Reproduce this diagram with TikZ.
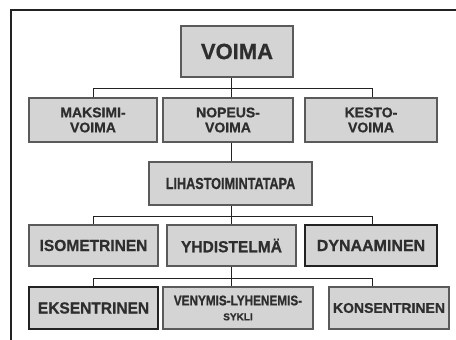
\documentclass[tikz,border=0pt]{standalone}
\usepackage{fontspec}
\setmainfont{Liberation Sans}[BoldFeatures={FakeBold=0.8}]
\definecolor{boxfill}{HTML}{D4D4D4}
\definecolor{boxline}{HTML}{5A5A5A}
\definecolor{darkline}{HTML}{222222}
\definecolor{txt}{HTML}{2E2E2E}
\tikzset{
  box/.style={draw=boxline, line width=1.2pt, fill=boxfill, text=txt,
    inner sep=0pt, align=center, font=\bfseries},
  thickbox/.style={box, draw=darkline, line width=2pt},
  conn/.style={draw=darkline, line width=0.9pt},
}
\begin{document}
\begin{tikzpicture}[x=1pt,y=-1pt]
\useasboundingbox (0,0) rectangle (456,340);
% frame
\draw[darkline, line width=2.5pt] (11,10) -- (456,10);
\draw[darkline, line width=1.5pt] (11,9) -- (11,340);
% nodes
\node[box, minimum width=112pt, minimum height=51pt, font=\bfseries\fontsize{22}{24}\selectfont] (voima) at (237,51.5) {VOIMA};
\node[box, minimum width=128pt, minimum height=44pt, font=\bfseries\fontsize{14}{15}\selectfont] (maks) at (93,120) {MAKSIMI-\\VOIMA};
\node[box, minimum width=130pt, minimum height=44pt, font=\bfseries\fontsize{14}{15}\selectfont] (nop) at (228,120) {NOPEUS-\\VOIMA};
\node[box, minimum width=132pt, minimum height=44pt, font=\bfseries\fontsize{14}{15}\selectfont] (kesto) at (371,120) {KESTO-\\VOIMA};
\node[box, minimum width=163pt, minimum height=43pt, font=\bfseries\fontsize{16}{17}\selectfont] (liha) at (230.5,183.5) {\scalebox{0.79}[1]{LIHASTOIMINTATAPA}};
\node[box, minimum width=129pt, minimum height=41pt, font=\bfseries\fontsize{16}{17}\selectfont] (iso) at (93.5,245.5) {\scalebox{0.97}[1]{ISOMETRINEN}};
\node[box, minimum width=129pt, minimum height=41pt, font=\bfseries\fontsize{16}{17}\selectfont] (yhd) at (231.5,245.5) {\scalebox{0.97}[1]{YHDISTELMÄ}};
\node[thickbox, minimum width=132pt, minimum height=41pt, font=\bfseries\fontsize{16}{17}\selectfont] (dyn) at (371,245.5) {DYNAAMINEN};
\node[thickbox, minimum width=129pt, minimum height=42pt, font=\bfseries\fontsize{16}{17}\selectfont] (eks) at (93.5,308) {\scalebox{0.97}[1]{EKSENTRINEN}};
\node[box, minimum width=150pt, minimum height=42pt, font=\bfseries\fontsize{14}{15}\selectfont] (ven) at (238,308) {\scalebox{0.84}[1]{VENYMIS-LYHENEMIS-}\\{\fontsize{10}{12}\selectfont SYKLI}};
\node[box, minimum width=120pt, minimum height=42pt, font=\bfseries\fontsize{14}{16}\selectfont] (kon) at (389,308) {KONSENTRINEN};
% bus coordinates
\coordinate (t1) at (231,88);
\coordinate (l1) at (93,88);
\coordinate (r1) at (372,88);
\coordinate (t2) at (231,216);
\coordinate (l2) at (93,216);
\coordinate (r2) at (372,216);
\coordinate (t3) at (231,278);
\coordinate (l3) at (93,278);
\coordinate (r3) at (372,278);
% connectors
\draw[conn] (voima.south -| t1) -- (t1);
\draw[conn] (l1) -- (r1);
\draw[conn] (l1) -- (maks.north -| l1);
\draw[conn] (t1) -- (nop.north -| t1);
\draw[conn] (r1) -- (kesto.north -| r1);
\draw[conn] (nop.south -| t1) -- (liha.north -| t1);
\draw[conn] (liha.south -| t2) -- (t2);
\draw[conn] (l2) -- (r2);
\draw[conn] (l2) -- (iso.north -| l2);
\draw[conn] (t2) -- (yhd.north -| t2);
\draw[conn] (r2) -- (dyn.north -| r2);
\draw[conn] (yhd.south -| t3) -- (t3);
\draw[conn] (l3) -- (r3);
\draw[conn] (l3) -- (eks.north -| l3);
\draw[conn] (t3) -- (ven.north -| t3);
\draw[conn] (r3) -- (kon.north -| r3);
\end{tikzpicture}
\end{document}
